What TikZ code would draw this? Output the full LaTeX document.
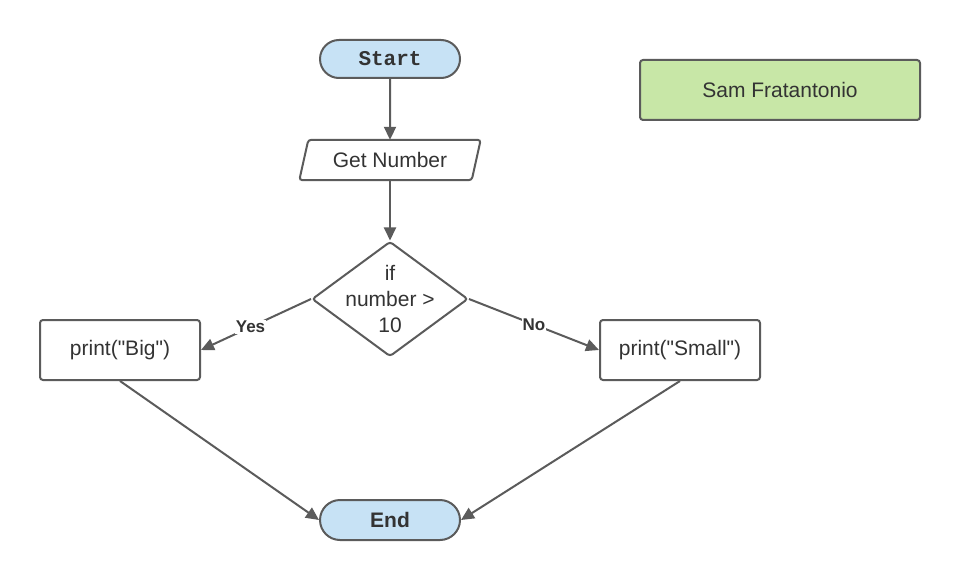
\documentclass[tikz,border=0pt]{standalone}
\usepackage{fontspec}
\setmainfont{Liberation Sans}
\setmonofont{Liberation Mono}
\usetikzlibrary{shapes.geometric,shapes.misc,arrows.meta}
\definecolor{ln}{HTML}{5B5B5B}
\definecolor{bluef}{HTML}{C7E2F5}
\definecolor{greenf}{HTML}{C8E7A7}
\definecolor{tx}{HTML}{333333}
\begin{document}
\begin{tikzpicture}[x=1pt,y=-1pt,
  every node/.style={text=tx},
  base/.style={draw=ln,line width=2pt,font=\fontsize{21}{25}\selectfont},
  term/.style={base,rounded rectangle,fill=bluef,minimum width=140pt,minimum height=38pt,inner sep=0pt},
  proc/.style={base,rectangle,rounded corners=3pt,minimum width=160pt,minimum height=60pt,inner sep=0pt},
  dec/.style={base,diamond,minimum width=156pt,minimum height=115pt,rounded corners=3pt,inner sep=0pt},
  arr/.style={draw=ln,line width=2pt,-{Triangle[length=13pt,width=12pt]}},
  lab/.style={fill=white,inner sep=1pt,font=\fontsize{17}{19}\selectfont\bfseries}]
\useasboundingbox (0,0) rectangle (960,580);
\node[term,font=\fontsize{21}{25}\selectfont\ttfamily\bfseries] (start) at (390,59) {Start};
\node[rectangle,minimum width=172pt,minimum height=40pt,inner sep=0pt,font=\fontsize{21}{25}\selectfont] (get) at (390,160) {Get Number};
\draw[draw=ln,line width=2pt,rounded corners=3pt] ([xshift=-4.5pt]get.south west) -- ([xshift=4.5pt]get.north west) -- ([xshift=4.5pt]get.north east) -- ([xshift=-4.5pt]get.south east) -- cycle;
\node[dec] (if) at (390,299) {};
\node[align=center,font=\fontsize{21}{26}\selectfont] (iftext) at (if.center) {if\\number >\\10};
\node[proc] (big) at (120,350) {print(\textquotedbl Big\textquotedbl)};
\node[proc] (small) at (680,350) {print(\textquotedbl Small\textquotedbl)};
\node[term,font=\fontsize{21}{25}\selectfont\bfseries,minimum height=40pt] (end) at (390,520) {End};
\node[base,rectangle,rounded corners=3pt,fill=greenf,minimum width=280pt,minimum height=60pt] (sam) at (780,90) {Sam Fratantonio};
\draw[arr] (start) -- (get);
\draw[arr] (get) -- (if);
\draw[arr] (if.west) -- node[lab,pos=0.55] {Yes} (big.east);
\draw[arr] (if.east) -- node[lab,pos=0.5] {No} (small.west);
\draw[arr] (big.south) -- (end.west);
\draw[arr] (small.south) -- (end.east);
\end{tikzpicture}
\end{document}
